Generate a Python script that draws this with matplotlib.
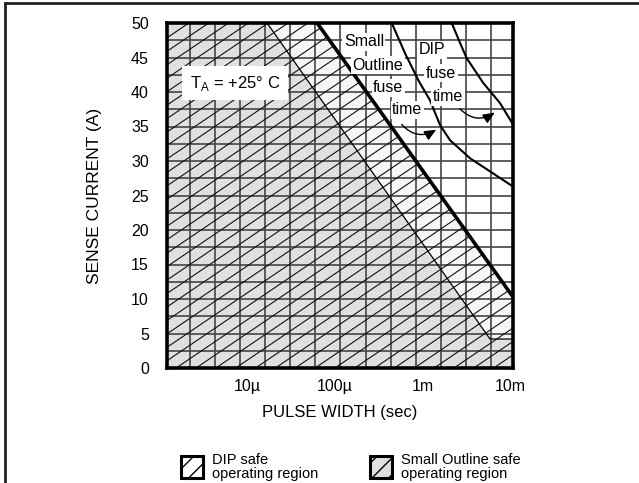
import numpy as np
import matplotlib
matplotlib.use("Agg")
import matplotlib.pyplot as plt
from matplotlib.patches import Polygon, Rectangle, FancyArrowPatch
from matplotlib.lines import Line2D

plt.rcParams['font.family'] = ['Liberation Sans Narrow', 'Liberation Sans', 'DejaVu Sans']

# axis range (seconds, amps)
x_range = [1.22e-6, 1.08e-2]
y_range = [0, 50]
x_ticks = [1e-5, 1e-4, 1e-3, 1e-2]
x_tick_labels = ['10µ', '100µ', '1m', '10m']
y_ticks = list(range(0, 55, 5))

# Small Outline safe region boundary (pulse width s, current A)
so_edge_t = [1.69e-5, 5.9e-3]
so_edge_i = [50, 4.2]
# DIP safe region boundary (thick line)
dip_edge_t = [6.3e-5, 1.08e-2]
dip_edge_i = [50, 10.3]
dip_floor_i = 4.2

# fuse time curves
so_fuse_t = [4.47e-4, 6.34e-4, 8.99e-4, 1.22e-3, 1.59e-3, 2.07e-3, 3.49e-3, 5.90e-3, 1.08e-2]
so_fuse_i = [50, 45.6, 41.7, 38.8, 35.2, 33.0, 30.4, 28.5, 26.3]
dip_fuse_t = [2.16e-3, 2.69e-3, 3.20e-3, 4.95e-3, 7.67e-3, 1.08e-2]
dip_fuse_i = [50, 47.1, 44.9, 41.3, 38.4, 35.3]

fig = plt.figure(figsize=(6.39, 4.83), dpi=100)
ax = fig.add_axes([167/639, 1-368/483, 346/639, 345/483])
ax.set_xscale('log')
ax.set_xlim(x_range)
ax.set_ylim(y_range)

xmin, xmax = x_range
dip_poly = Polygon([(xmin, 0), (xmin, 50), (dip_edge_t[0], dip_edge_i[0]),
                    (dip_edge_t[1], dip_edge_i[1]), (xmax, 0)],
                   closed=True, facecolor='#f6f6f6', edgecolor='none', zorder=1)
ax.add_patch(dip_poly)
so_poly = Polygon([(xmin, 0), (xmin, 50), (so_edge_t[0], so_edge_i[0]),
                   (so_edge_t[1], so_edge_i[1]), (xmax, dip_floor_i), (xmax, 0)],
                  closed=True, facecolor='#e0e0e0', edgecolor='none', zorder=1.1)
ax.add_patch(so_poly)

# grid of the paper
lx0, lx1 = np.log10(x_range)
vgrid = 10 ** (lx0 + 0.262 + 0.2862 * np.arange(13))
ax.vlines(vgrid, 0, 50, colors='#444444', linewidth=1.2, zorder=1.5)
ax.hlines(np.arange(2.5, 50, 2.5), xmin, xmax, colors='#444444', linewidth=1.2, zorder=1.5)

# hatch lines, clipped to the DIP region
xs = np.array([0.0, 1.0])
for c in np.arange(-0.72, 1.0, 0.039):
    ln = Line2D(xs, 0.68 * xs + c, transform=ax.transAxes, color='#111111',
                linewidth=0.8, zorder=1.6)
    ln.set_clip_path(dip_poly)
    ax.add_line(ln)

# region edges
ax.plot(so_edge_t + [xmax], so_edge_i + [dip_floor_i], color='black', linewidth=0.9, zorder=2)
ax.plot(dip_edge_t, dip_edge_i, color='black', linewidth=2.6, zorder=3, solid_capstyle='butt')
ax.plot(so_fuse_t, so_fuse_i, color='black', linewidth=1.5, zorder=3)
ax.plot(dip_fuse_t, dip_fuse_i, color='black', linewidth=1.5, zorder=3)

for s in ax.spines.values():
    s.set_linewidth(2.6)
    s.set_zorder(5)

ax.set_xticks(x_ticks)
ax.set_xticklabels(x_tick_labels)
ax.xaxis.set_minor_locator(matplotlib.ticker.NullLocator())
ax.set_yticks(y_ticks)
ax.tick_params(length=0, labelsize=11.5)
ax.tick_params(axis='y', pad=13)
ax.tick_params(axis='x', pad=8)

fig.text(95/639, 1-196/483, 'SENSE CURRENT (A)', rotation=90, ha='center', va='center', fontsize=12.5)
fig.text(340/639, 1-413/483, 'PULSE WIDTH (sec)', ha='center', va='center', fontsize=12)

box = dict(facecolor='white', edgecolor='none', pad=1.0)
ax.text(0.197, 0.826, r'T$_\mathregular{A}$ = +25° C', transform=ax.transAxes, ha='center',
        va='center', fontsize=12, zorder=4,
        bbox=dict(facecolor='white', edgecolor='none', boxstyle='square,pad=0.45'))
labels = [('Small', 0.569, 0.945), ('Outline', 0.610, 0.878), ('fuse', 0.639, 0.812),
          ('time', 0.694, 0.748), ('DIP', 0.766, 0.922), ('fuse', 0.792, 0.855),
          ('time', 0.812, 0.786)]
for txt, tx, ty in labels:
    ax.text(tx, ty, txt, transform=ax.transAxes, ha='center', va='center',
            fontsize=11.5, zorder=4, bbox=box)

for (a, b) in [((0.673, 0.712), (0.785, 0.695)), ((0.841, 0.757), (0.954, 0.745))]:
    arr = FancyArrowPatch(a, b, transform=ax.transAxes, connectionstyle='arc3,rad=0.45',
                          arrowstyle='-|>,head_length=7,head_width=3', color='black',
                          linewidth=1.0, zorder=4)
    ax.add_patch(arr)

# legend
for (bx, fc, t) in [(181, 'white', 'DIP safe\noperating region'),
                    (370, '#e0e0e0', 'Small Outline safe\noperating region')]:
    r = Rectangle((bx/639, 1-478/483), 22/639, 22/483, transform=fig.transFigure,
                  facecolor=fc, edgecolor='black', linewidth=2.2, hatch='//')
    fig.patches.append(r)
    fig.text((bx+31)/639, 1-467/483, t, ha='left', va='center', fontsize=10.5, linespacing=0.95)

# outer frame
fig.add_artist(Line2D([5/639, 5/639], [0, 1-3/483], transform=fig.transFigure, color='#222222', linewidth=2))
fig.add_artist(Line2D([5/639, 1], [1-3/483, 1-3/483], transform=fig.transFigure, color='#222222', linewidth=2))

fig.savefig('out.png', dpi=100)
